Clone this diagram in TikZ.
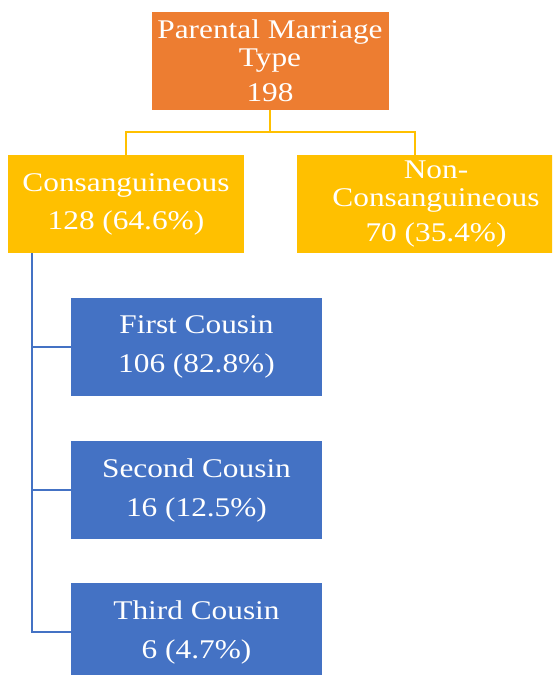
\documentclass[tikz,border=0pt]{standalone}
\usepackage{fontspec}
\setmainfont{Liberation Serif}[FakeStretch=1.16]
\definecolor{ptorange}{HTML}{ED7D31}
\definecolor{ptgold}{HTML}{FFC000}
\definecolor{ptblue}{HTML}{4472C4}

\begin{document}
\begin{tikzpicture}[x=1pt,y=1pt,
  box/.style={rectangle,inner sep=0pt,text=white,align=center,minimum height=98,
    font=\fontsize{27}{28}\selectfont},
  goldline/.style={draw=ptgold,line width=1.8pt},
  blueline/.style={draw=ptblue,line width=1.5pt}]
       \clip (0,0) rectangle (552,-675);
       % top level
       \node[box,fill=ptorange,minimum width=237] (parent) at (270,-61)
         {Parental Marriage\\Type\\[7pt]198};
       \node[box,fill=ptgold,minimum width=236] (cons) at (126,-204)
         {Consanguineous\\[10pt]128 (64.6\%)};
       \node[box,fill=ptgold,minimum width=278] (noncons) at (436,-204)
         {Non-\\Consanguineous\\[7pt]70 (35.4\%)};
       % cousin boxes
       \node[box,fill=ptblue,minimum width=251] (first) at (196.5,-347)
         {First Cousin\\[11pt]106 (82.8\%)};
       \node[box,fill=ptblue,minimum width=251] (second) at (196.5,-490)
         {Second Cousin\\[11pt]16 (12.5\%)};
       \node[box,fill=ptblue,minimum width=251] (third) at (196.5,-632)
         {Third Cousin\\[11pt]6 (4.7\%)};
       % connectors
       \draw[goldline] (parent.south) -- ++(0,-22) coordinate (split);
       \draw[goldline] (cons.north) |- (split) -| ([xshift=-21pt]noncons.north);
       \draw[blueline] ([xshift=-94pt]cons.south) coordinate (trunk) |- (third.west);
       \foreach \c in {first,second} \draw[blueline] (trunk |- \c.west) -- (\c.west);
\end{tikzpicture}
\end{document}
